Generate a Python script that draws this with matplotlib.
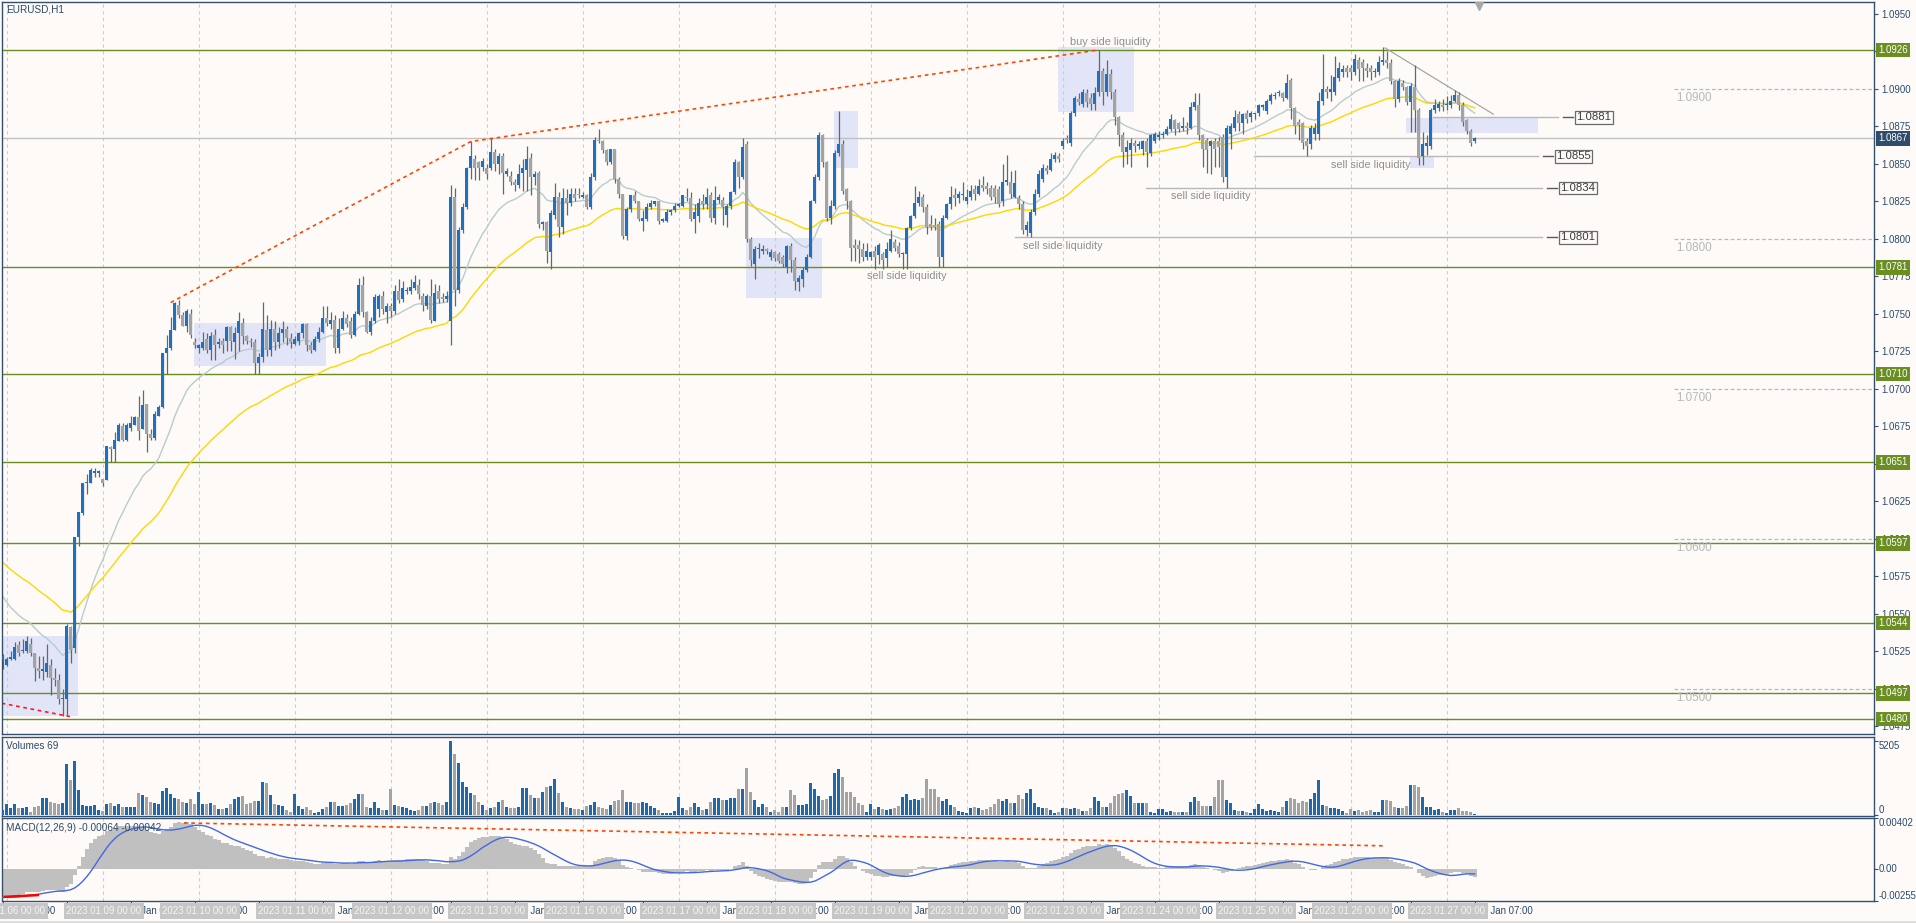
import matplotlib.pyplot as plt
import numpy as np
import pandas as pd
from matplotlib.patches import Rectangle
from matplotlib.transforms import blended_transform_factory as blend

plt.rcParams['font.family'] = ['Liberation Sans', 'DejaVu Sans']

# ---------------- data: EURUSD H1, prices in 1/10000 (10867 = 1.0867) ----------------
OPEN = [
    10519, 10516, 10520, 10520, 10529, 10525, 10525, 10530, 10524, 10514,
    10512, 10511, 10516, 10507, 10506, 10493, 10493, 10541, 10527, 10601,
    10617, 10637, 10637, 10644, 10644, 10640, 10639, 10661, 10660, 10665,
    10675, 10666, 10674, 10676, 10681, 10673, 10690, 10670, 10667, 10682,
    10688, 10724, 10727, 10739, 10756, 10749, 10742, 10750, 10731, 10727,
    10727, 10733, 10726, 10736, 10730, 10732, 10732, 10741, 10731, 10737,
    10744, 10735, 10732, 10731, 10717, 10721, 10739, 10726, 10740, 10731,
    10737, 10740, 10734, 10730, 10732, 10737, 10743, 10729, 10726, 10733,
    10738, 10747, 10743, 10746, 10727, 10740, 10747, 10745, 10736, 10750,
    10769, 10751, 10738, 10745, 10753, 10762, 10751, 10755, 10752, 10765,
    10760, 10765, 10765, 10767, 10769, 10762, 10755, 10762, 10745, 10765,
    10761, 10760, 10745, 10828, 10766, 10806, 10821, 10847, 10853, 10851,
    10848, 10847, 10847, 10858, 10850, 10855, 10843, 10842, 10838, 10836,
    10844, 10846, 10854, 10841, 10844, 10810, 10811, 10791, 10816, 10828,
    10808, 10827, 10824, 10830, 10830, 10828, 10829, 10821, 10841, 10866,
    10865, 10859, 10851, 10860, 10840, 10830, 10802, 10820, 10829, 10825,
    10812, 10813, 10821, 10823, 10825, 10812, 10812, 10818, 10819, 10822,
    10822, 10828, 10827, 10813, 10815, 10825, 10823, 10829, 10814, 10826,
    10826, 10816, 10822, 10831, 10851, 10841, 10863, 10800, 10783, 10793,
    10792, 10793, 10788, 10791, 10790, 10788, 10781, 10795, 10786, 10771,
    10773, 10779, 10788, 10825, 10841, 10869, 10851, 10814, 10822, 10857,
    10863, 10833, 10825, 10796, 10796, 10793, 10788, 10788, 10792, 10789,
    10790, 10787, 10792, 10798, 10795, 10790, 10790, 10807, 10815, 10824,
    10828, 10821, 10810, 10809, 10810, 10788, 10814, 10823, 10829, 10827,
    10829, 10825, 10828, 10833, 10830, 10836, 10835, 10834, 10834, 10833,
    10825, 10838, 10838, 10828, 10827, 10823, 10806, 10804, 10818, 10830,
    10840, 10847, 10846, 10853, 10855, 10862, 10867, 10864, 10884, 10893,
    10890, 10897, 10894, 10890, 10898, 10912, 10898, 10910, 10898, 10881,
    10869, 10858, 10859, 10864, 10862, 10860, 10865, 10857, 10865, 10868,
    10869, 10870, 10873, 10879, 10877, 10874, 10875, 10874, 10888, 10889,
    10869, 10866, 10862, 10865, 10865, 10868, 10841, 10870, 10874, 10883,
    10877, 10884, 10881, 10883, 10884, 10888, 10885, 10892, 10895, 10897,
    10897, 10894, 10906, 10887, 10878, 10877, 10865, 10863, 10870, 10870,
    10892, 10900, 10898, 10898, 10907, 10911, 10914, 10914, 10911, 10919,
    10918, 10914, 10914, 10911, 10911, 10918, 10919, 10917, 10905, 10893,
    10904, 10901, 10891, 10901, 10886, 10855, 10862, 10862, 10886, 10887,
    10889, 10889, 10889, 10892, 10896, 10889, 10879, 10872, 10865,
]
HIGH = [
    10523, 10521, 10525, 10531, 10532, 10533, 10535, 10534, 10524, 10522,
    10522, 10530, 10520, 10514, 10510, 10500, 10543, 10542, 10601, 10618,
    10637, 10643, 10647, 10647, 10646, 10640, 10662, 10662, 10671, 10677,
    10677, 10677, 10682, 10682, 10695, 10699, 10690, 10673, 10685, 10689,
    10724, 10736, 10748, 10758, 10759, 10751, 10753, 10753, 10734, 10730,
    10738, 10737, 10738, 10740, 10734, 10734, 10742, 10742, 10741, 10751,
    10747, 10736, 10734, 10733, 10724, 10758, 10749, 10746, 10745, 10741,
    10745, 10742, 10737, 10735, 10738, 10744, 10744, 10731, 10735, 10741,
    10755, 10755, 10751, 10749, 10747, 10752, 10750, 10748, 10752, 10774,
    10775, 10752, 10748, 10763, 10763, 10765, 10757, 10757, 10769, 10773,
    10772, 10768, 10773, 10776, 10773, 10764, 10763, 10773, 10770, 10769,
    10764, 10765, 10836, 10834, 10808, 10824, 10848, 10865, 10856, 10852,
    10854, 10850, 10867, 10860, 10857, 10857, 10847, 10845, 10840, 10850,
    10853, 10862, 10857, 10845, 10845, 10812, 10812, 10819, 10837, 10831,
    10834, 10833, 10834, 10834, 10834, 10831, 10830, 10844, 10868, 10873,
    10866, 10860, 10860, 10860, 10841, 10830, 10821, 10829, 10832, 10825,
    10819, 10824, 10826, 10825, 10825, 10814, 10820, 10820, 10824, 10824,
    10829, 10834, 10831, 10823, 10827, 10830, 10834, 10831, 10835, 10830,
    10828, 10823, 10832, 10853, 10852, 10867, 10865, 10801, 10795, 10797,
    10796, 10794, 10793, 10792, 10791, 10789, 10796, 10797, 10788, 10776,
    10781, 10790, 10826, 10843, 10871, 10870, 10852, 10826, 10859, 10885,
    10866, 10834, 10826, 10800, 10799, 10797, 10797, 10792, 10795, 10797,
    10791, 10798, 10806, 10800, 10798, 10791, 10808, 10816, 10835, 10832,
    10830, 10823, 10816, 10814, 10812, 10816, 10824, 10835, 10834, 10832,
    10838, 10833, 10836, 10836, 10840, 10842, 10838, 10836, 10836, 10835,
    10850, 10856, 10845, 10846, 10829, 10825, 10812, 10820, 10833, 10846,
    10850, 10849, 10857, 10858, 10857, 10867, 10869, 10885, 10895, 10897,
    10900, 10900, 10897, 10901, 10926, 10914, 10919, 10913, 10900, 10882,
    10871, 10866, 10867, 10866, 10865, 10866, 10867, 10870, 10871, 10872,
    10872, 10875, 10883, 10880, 10878, 10881, 10878, 10891, 10897, 10897,
    10870, 10867, 10866, 10867, 10868, 10870, 10876, 10877, 10886, 10885,
    10884, 10886, 10885, 10884, 10890, 10890, 10893, 10897, 10898, 10899,
    10898, 10910, 10907, 10888, 10880, 10878, 10867, 10876, 10877, 10898,
    10923, 10902, 10909, 10922, 10918, 10916, 10916, 10916, 10923, 10921,
    10920, 10917, 10916, 10914, 10922, 10928, 10925, 10920, 10906, 10907,
    10906, 10902, 10904, 10916, 10887, 10871, 10869, 10887, 10893, 10892,
    10893, 10895, 10896, 10899, 10898, 10891, 10880, 10873, 10868,
]
LOW = [
    10513, 10515, 10519, 10519, 10522, 10524, 10524, 10522, 10505, 10507,
    10506, 10508, 10496, 10502, 10490, 10482, 10482, 10517, 10524, 10595,
    10616, 10630, 10637, 10641, 10641, 10635, 10639, 10651, 10651, 10665,
    10665, 10665, 10672, 10676, 10666, 10673, 10658, 10666, 10666, 10682,
    10687, 10710, 10726, 10739, 10747, 10742, 10738, 10734, 10727, 10724,
    10726, 10724, 10719, 10719, 10727, 10724, 10725, 10725, 10720, 10725,
    10730, 10730, 10728, 10710, 10710, 10718, 10722, 10722, 10726, 10727,
    10731, 10729, 10727, 10729, 10729, 10734, 10725, 10724, 10725, 10731,
    10737, 10742, 10740, 10724, 10724, 10739, 10741, 10734, 10735, 10749,
    10748, 10737, 10736, 10744, 10748, 10750, 10744, 10748, 10750, 10757,
    10758, 10763, 10763, 10766, 10760, 10752, 10753, 10744, 10745, 10757,
    10758, 10758, 10729, 10755, 10764, 10804, 10820, 10840, 10839, 10839,
    10845, 10840, 10846, 10845, 10843, 10830, 10842, 10836, 10832, 10834,
    10832, 10832, 10829, 10836, 10807, 10806, 10784, 10780, 10813, 10801,
    10803, 10816, 10822, 10825, 10827, 10827, 10820, 10820, 10839, 10864,
    10857, 10849, 10850, 10837, 10827, 10800, 10799, 10818, 10824, 10812,
    10805, 10812, 10820, 10822, 10810, 10811, 10811, 10816, 10818, 10821,
    10821, 10825, 10812, 10804, 10811, 10820, 10820, 10811, 10810, 10824,
    10809, 10808, 10820, 10830, 10834, 10840, 10798, 10782, 10773, 10787,
    10790, 10790, 10786, 10785, 10784, 10781, 10777, 10778, 10766, 10765,
    10768, 10778, 10787, 10824, 10839, 10848, 10812, 10810, 10820, 10855,
    10830, 10820, 10785, 10785, 10784, 10785, 10786, 10786, 10780, 10783,
    10780, 10781, 10791, 10792, 10788, 10780, 10780, 10806, 10814, 10822,
    10818, 10803, 10806, 10806, 10781, 10781, 10813, 10820, 10822, 10824,
    10826, 10823, 10826, 10826, 10829, 10832, 10830, 10826, 10824, 10821,
    10822, 10836, 10827, 10827, 10820, 10803, 10802, 10801, 10816, 10828,
    10838, 10843, 10845, 10851, 10851, 10860, 10864, 10862, 10882, 10889,
    10888, 10888, 10886, 10886, 10895, 10889, 10895, 10893, 10876, 10862,
    10848, 10850, 10848, 10858, 10860, 10856, 10848, 10855, 10864, 10866,
    10867, 10869, 10872, 10869, 10871, 10872, 10870, 10873, 10886, 10866,
    10848, 10844, 10843, 10848, 10848, 10838, 10834, 10860, 10872, 10872,
    10870, 10877, 10878, 10880, 10882, 10886, 10883, 10890, 10893, 10895,
    10892, 10893, 10880, 10870, 10866, 10860, 10855, 10860, 10866, 10866,
    10889, 10894, 10892, 10896, 10905, 10908, 10908, 10906, 10909, 10905,
    10905, 10908, 10906, 10908, 10909, 10916, 10914, 10903, 10888, 10891,
    10899, 10889, 10871, 10871, 10849, 10849, 10856, 10860, 10884, 10885,
    10885, 10886, 10887, 10891, 10886, 10875, 10870, 10862, 10864,
]
CLOSE = [
    10522, 10520, 10521, 10528, 10524, 10526, 10532, 10524, 10514, 10512,
    10513, 10517, 10507, 10506, 10493, 10494, 10542, 10526, 10601, 10618,
    10637, 10638, 10646, 10645, 10645, 10637, 10662, 10660, 10666, 10676,
    10666, 10676, 10677, 10681, 10672, 10689, 10670, 10667, 10683, 10688,
    10724, 10727, 10739, 10757, 10749, 10742, 10752, 10736, 10729, 10729,
    10731, 10726, 10735, 10729, 10731, 10729, 10741, 10732, 10737, 10745,
    10735, 10732, 10731, 10717, 10721, 10740, 10726, 10740, 10731, 10737,
    10740, 10734, 10731, 10733, 10737, 10743, 10729, 10726, 10733, 10738,
    10747, 10744, 10746, 10727, 10740, 10747, 10743, 10736, 10750, 10769,
    10751, 10738, 10745, 10761, 10762, 10753, 10755, 10752, 10765, 10759,
    10767, 10766, 10768, 10771, 10763, 10756, 10762, 10746, 10764, 10760,
    10760, 10762, 10828, 10766, 10806, 10821, 10847, 10855, 10847, 10847,
    10852, 10843, 10858, 10850, 10855, 10844, 10845, 10838, 10836, 10843,
    10847, 10853, 10841, 10843, 10810, 10811, 10792, 10817, 10828, 10808,
    10827, 10824, 10830, 10827, 10829, 10829, 10821, 10841, 10866, 10865,
    10859, 10851, 10860, 10840, 10830, 10802, 10820, 10829, 10825, 10813,
    10814, 10821, 10824, 10825, 10812, 10813, 10818, 10819, 10822, 10823,
    10829, 10827, 10813, 10818, 10824, 10823, 10828, 10814, 10826, 10828,
    10821, 10822, 10831, 10851, 10841, 10861, 10800, 10786, 10793, 10794,
    10793, 10792, 10791, 10787, 10785, 10783, 10795, 10786, 10772, 10774,
    10779, 10788, 10825, 10841, 10869, 10851, 10814, 10822, 10857, 10863,
    10832, 10825, 10794, 10794, 10793, 10788, 10792, 10791, 10788, 10796,
    10786, 10793, 10800, 10794, 10790, 10790, 10807, 10815, 10824, 10828,
    10821, 10808, 10808, 10808, 10788, 10814, 10823, 10828, 10827, 10830,
    10830, 10828, 10832, 10830, 10835, 10834, 10833, 10828, 10828, 10823,
    10838, 10839, 10830, 10837, 10823, 10806, 10809, 10818, 10830, 10843,
    10847, 10845, 10853, 10856, 10853, 10865, 10866, 10884, 10894, 10891,
    10898, 10891, 10890, 10897, 10912, 10898, 10910, 10898, 10881, 10869,
    10858, 10861, 10864, 10862, 10863, 10865, 10858, 10869, 10870, 10869,
    10870, 10873, 10880, 10873, 10873, 10875, 10874, 10888, 10891, 10869,
    10860, 10859, 10865, 10860, 10861, 10841, 10874, 10875, 10881, 10877,
    10883, 10880, 10884, 10884, 10889, 10889, 10892, 10896, 10896, 10897,
    10894, 10904, 10887, 10875, 10876, 10864, 10862, 10874, 10874, 10892,
    10900, 10898, 10900, 10908, 10914, 10913, 10911, 10911, 10920, 10913,
    10914, 10912, 10911, 10912, 10918, 10919, 10917, 10905, 10893, 10905,
    10901, 10891, 10902, 10886, 10854, 10863, 10864, 10886, 10889, 10890,
    10888, 10890, 10892, 10896, 10889, 10878, 10872, 10864, 10867,
]
VOLUME = [
    352, 775, 470, 752, 470, 470, 587, 235, 587, 658,
    1175, 1175, 940, 869, 752, 822, 3595, 2467, 3807, 1762,
    705, 658, 658, 705, 352, 305, 775, 822, 634, 775,
    587, 540, 540, 540, 1527, 1410, 1292, 893, 822, 752,
    1715, 1880, 1480, 1175, 1104, 940, 822, 1104, 775, 1645,
    775, 775, 822, 705, 399, 423, 470, 775, 1104, 1245,
    1339, 752, 869, 1010, 987, 2303, 2232, 1410, 775, 705,
    634, 352, 235, 1480, 634, 446, 587, 352, 164, 188,
    423, 540, 940, 940, 634, 634, 705, 822, 1104, 1480,
    1457, 587, 470, 940, 470, 352, 352, 1809, 705, 634,
    587, 470, 352, 305, 352, 634, 634, 822, 940, 822,
    705, 940, 5205, 4300, 3642, 2350, 1997, 1574, 1410, 940,
    705, 352, 470, 587, 940, 1057, 587, 470, 470, 587,
    1880, 1880, 1410, 1175, 1175, 1645, 1997, 2044, 2514, 1527,
    940, 587, 470, 399, 399, 352, 634, 705, 940, 587,
    470, 399, 705, 987, 1057, 1762, 940, 940, 822, 822,
    940, 869, 634, 470, 352, 117, 117, 117, 305, 1292,
    470, 352, 587, 869, 587, 352, 399, 940, 1175, 1222,
    1057, 1057, 1175, 1222, 1833, 1833, 3337, 1598, 1057, 587,
    752, 540, 235, 352, 235, 540, 587, 1762, 1410, 705,
    705, 775, 2279, 1809, 1339, 1057, 1128, 1339, 2937, 3243,
    2702, 1598, 1598, 1292, 822, 705, 235, 752, 423, 587,
    423, 352, 423, 470, 634, 1292, 1480, 1057, 1104, 1057,
    1175, 2538, 1833, 1833, 1245, 987, 1104, 705, 540, 305,
    235, 164, 470, 540, 470, 352, 399, 587, 752, 1104,
    1010, 1104, 822, 822, 1410, 1104, 1574, 1809, 869, 540,
    493, 517, 352, 164, 235, 470, 470, 399, 470, 399,
    305, 305, 470, 1292, 1010, 587, 587, 869, 1339, 1457,
    1527, 1762, 1339, 822, 822, 822, 869, 235, 164, 399,
    399, 235, 282, 235, 235, 235, 235, 893, 1245, 987,
    634, 634, 634, 1245, 2467, 2467, 1057, 822, 352, 305,
    305, 235, 117, 399, 775, 423, 282, 352, 282, 235,
    587, 987, 1222, 1104, 869, 987, 940, 1104, 1574, 2467,
    705, 658, 517, 470, 399, 305, 164, 399, 305, 352,
    235, 305, 352, 235, 235, 1057, 1057, 987, 587, 470,
    470, 634, 2115, 2115, 1997, 1292, 540, 587, 352, 423,
    235, 117, 352, 352, 470, 305, 282, 235, 69,
]
TRADING_DAYS = [6, 9, 10, 11, 12, 13, 16, 17, 18, 19, 20, 23, 24, 25, 26, 27]

# moving-average levels at the first bar
EMA20_START, EMA50_START = 1.0566, 1.0587
EMA12_START, EMA26_START = 1.0548, 1.0570

# chart objects (bar index, price)
GREEN_LEVELS = [1.0926, 1.0781, 1.0710, 1.0651, 1.0597, 1.0544, 1.0497, 1.0480]
ROUND_LEVELS = [1.0900, 1.0800, 1.0700, 1.0600, 1.0500]
LAST_PRICE = 1.0867
ZONES = [(-0.25, 18.75, 1.04823, 1.05351), (47.8, 80.75, 1.07152, 1.07440),
         (185.8, 204.75, 1.07605, 1.08006), (207.8, 213.75, 1.08475, 1.08850),
         (263.8, 282.8, 1.08845, 1.09278), (350.8, 383.75, 1.08709, 1.08808),
         (351.8, 357.8, 1.08475, 1.08546)]
LIQUIDITY = [(1.0881, 357.6, 388.8), (1.0855, 312.8, 383.8),
             (1.0834, 285.8, 384.8), (1.0801, 253.0, 384.8)]
NOTES = [("buy side liquidity", 276.9, 1.09316), ("sell side liquidity", 226.0, 1.07750),
         ("sell side liquidity", 264.9, 1.07951), ("sell side liquidity", 302.0, 1.08285),
         ("sell side liquidity", 342.0, 1.08490)]
TREND_HIGHS = [(42, 1.07576), (117, 1.08649), (274, 1.0926)]
TREND_LOWS = [(-0.25, 1.04905), (16.8, 1.04816)]
TREND_DOWN = [(345.6, 1.09273), (372.6, 1.08832)]
MACD_TREND = [(45.3, 0.00365), (345.8, 0.00183)]
MACD_LOW = [(0.5, -0.00222), (8.8, -0.00208)]

# ---------------- styling ----------------
BG = '#fdfaf8'
FRAME = '#33506e'
TXT = '#2b4a6b'
BULL = '#2070bd'
BEAR = '#a3a3a3'
VOL_BULL = '#1f68ab'
WICK = '#5d6b6b'
GREEN = '#6b8e23'
FS = 6.9
W, H = 1916, 923

n = min(len(OPEN), len(HIGH), len(LOW), len(CLOSE), len(VOLUME))
o = np.array(OPEN[:n]) / 1e4
c = np.array(CLOSE[:n]) / 1e4
h = np.maximum(np.array(HIGH[:n]) / 1e4, np.maximum(o, c))
l = np.minimum(np.array(LOW[:n]) / 1e4, np.minimum(o, c))
vol = np.array(VOLUME[:n])
x = np.arange(n)
up = c >= o


def ema(values, period, start):
    k = 2.0 / (period + 1)
    out = np.empty(len(values))
    prev = start
    for i, v in enumerate(values):
        prev = prev + k * (v - prev)
        out[i] = prev
    return out


ema20 = ema(c, 20, EMA20_START)
ema50 = ema(c, 50, EMA50_START)
macd = ema(c, 12, EMA12_START) - ema(c, 26, EMA26_START)
signal = pd.Series(macd).rolling(9, min_periods=1).mean().values


def rect(left, top, right, bottom):
    return [left / W, 1 - bottom / H, (right - left) / W, (bottom - top) / H]


fig = plt.figure(figsize=(W / 100, H / 100), dpi=100, facecolor=BG)
ax = fig.add_axes(rect(2, 1.5, 1874, 734))
axv = fig.add_axes(rect(2, 737, 1874, 816))
axm = fig.add_axes(rect(2, 818.3, 1874, 901))

XL = (-0.175, 467.8)
for a in (ax, axv, axm):
    a.set_facecolor(BG)
    a.set_xlim(*XL)
    for s in a.spines.values():
        s.set_color(FRAME)
        s.set_linewidth(1.0)
    a.tick_params(axis='x', bottom=False, labelbottom=False)
    a.yaxis.tick_right()
    a.tick_params(axis='y', length=3, width=0.8, color=FRAME, labelsize=FS,
                  labelcolor=TXT, pad=2.5)
    for k in range(len(TRADING_DAYS)):
        a.axvline(1 + 24 * k, color='#cdcdcd', lw=0.8, ls=(0, (3, 3)), zorder=0.6)

# ---------------- price panel ----------------
ax.set_ylim(1.046997, 1.095827)
ax.set_yticks(np.arange(1.0475, 1.09501, 0.0025))
ax.yaxis.set_major_formatter(plt.FuncFormatter(lambda v, p: f'{v:.4f}'))
tr_ax = blend(ax.transAxes, ax.transData)

for b0, b1, p0, p1 in ZONES:
    ax.add_patch(Rectangle((b0, p0), b1 - b0, p1 - p0, fc='#e2e4f7', ec='none', zorder=0.5))

for p in GREEN_LEVELS:
    ax.axhline(p, color=GREEN, lw=1.0, zorder=1)
    ax.text(1.0022, p, f'{p:.4f}', transform=tr_ax, ha='left', va='center', fontsize=FS,
            color='white', clip_on=False, zorder=6,
            bbox=dict(boxstyle='square,pad=0.25', fc=GREEN, ec='none'))
ax.axhline(LAST_PRICE, color='#c2c2c2', lw=1.0, zorder=1)
ax.text(1.0022, LAST_PRICE, f'{LAST_PRICE:.4f}', transform=tr_ax, ha='left', va='center',
        fontsize=FS, color='white', clip_on=False, zorder=6,
        bbox=dict(boxstyle='square,pad=0.25', fc='#2f4d6b', ec='none'))

for p in ROUND_LEVELS:
    ax.plot([417.8, XL[1]], [p, p], color='#b9b9b9', lw=0.9, ls=(0, (3, 2)), zorder=1)
    ax.annotate(f'{p:.4f}', (418.3, p), xytext=(0, -2), textcoords='offset points',
                ha='left', va='top', fontsize=8.4, color='#b8b8b8')

for p, b0, b1 in LIQUIDITY:
    ax.plot([b0, b1], [p, p], color='#b8b8b8', lw=1.0, zorder=1)
    ax.plot([b1 + 1.25, b1 + 3.75], [p, p], color='#5a5a5a', lw=1.0, zorder=1)
    ax.text(b1 + 4.6, p, f'{p:.4f}', ha='left', va='center', fontsize=8.2, color='#3c3c3c',
            zorder=6, bbox=dict(boxstyle='square,pad=0.12', fc=BG, ec='#6a6a6a', lw=0.9))

for txt, b, p in NOTES:
    ax.text(b, p, txt, ha='center', va='center', fontsize=7.8, color='#8f8f8f', zorder=6)

tx, ty = zip(*TREND_HIGHS)
ax.plot(tx, ty, color='#ff4500', lw=1.2, ls=(0, (2.2, 2.2)), zorder=1.2)
tx, ty = zip(*TREND_LOWS)
ax.plot(tx, ty, color='#ff1a1a', lw=1.2, ls=(0, (2.2, 2.2)), zorder=1.2)
tx, ty = zip(*TREND_DOWN)
ax.plot(tx, ty, color='#a6a6a6', lw=0.9, zorder=1.2)

ax.plot(x, ema20, color='#b7cdcc', lw=1.0, zorder=1.5)
ax.plot(x, ema50, color='#ffd700', lw=1.0, zorder=1.5)

ax.vlines(x, l, h, color=WICK, lw=0.9, zorder=2)
body_lo = np.minimum(o, c)
body_h = np.maximum(np.abs(c - o), 0.00007)
ax.bar(x, body_h, bottom=body_lo, width=0.8, color=np.where(up, BULL, BEAR),
       edgecolor='none', zorder=3)

ax.plot([369.1], [0.9945], marker='v', ms=6, color='#a8a8a8',
        transform=blend(ax.transData, ax.transAxes), clip_on=False, zorder=6)

fig.text(6.5 / W, 1 - 10 / H, 'EURUSD,H1', fontsize=7.2, color=TXT, va='center')

# ---------------- volume panel ----------------
axv.set_ylim(-70.5, 5499)
axv.bar(x, vol, width=0.7, color=np.where(up, VOL_BULL, BEAR), edgecolor='none', zorder=3)
axv.set_yticks([0, 5205])
axv.set_yticklabels([])
tr_v = blend(axv.transAxes, axv.transData)
axv.text(1.0025, 5205, '5205', transform=tr_v, ha='left', va='top', fontsize=FS, color=TXT)
axv.text(1.0025, 0, '0', transform=tr_v, ha='left', va='bottom', fontsize=FS, color=TXT)
fig.text(6 / W, 1 - 746 / H, f'Volumes {vol[-1]}', fontsize=7.2, color=TXT, va='center')

# ---------------- MACD panel ----------------
axm.set_ylim(-0.00255, 0.00402)
axm.bar(x, macd, width=1.0, color='#c0c0c0', edgecolor='none', zorder=2)
axm.plot(x, signal, color='#4169e1', lw=1.0, zorder=3)
tx, ty = zip(*MACD_TREND)
axm.plot(tx, ty, color='#ff4500', lw=1.2, ls=(0, (2.2, 2.2)), zorder=3)
tx, ty = zip(*MACD_LOW)
axm.plot(tx, ty, color='#ff0000', lw=1.8, zorder=3)
axm.set_yticks([-0.00255, 0, 0.00402])
axm.set_yticklabels([])
tr_m = blend(axm.transAxes, axm.transData)
axm.text(1.0025, 0.00402, '0.00402', transform=tr_m, ha='left', va='top', fontsize=FS,
         color=TXT)
axm.text(1.0025, 0.0, '0.00', transform=tr_m, ha='left', va='center', fontsize=FS, color=TXT)
axm.text(1.0022, -0.00255, '-0.00255', transform=tr_m, ha='left', va='bottom', fontsize=FS,
         color=TXT)
fig.text(6 / W, 1 - 828 / H, 'MACD(12,26,9) -0.00064 -0.00042', fontsize=7.2, color=TXT,
         va='center')

# ---------------- time axis ----------------
ticks = list(range(n - 1, -1, -16))
axm.set_xticks(ticks)
axm.tick_params(axis='x', bottom=True, length=3, width=0.8, color=FRAME, labelbottom=False)
tr_t = blend(axm.transData, axm.transAxes)


def bar_time(b):
    if b == 0:
        return '5 Jan 23:00'
    d = TRADING_DAYS[min((b - 1) // 24, len(TRADING_DAYS) - 1)]
    return f'{d} Jan {(b - 1) % 24:02d}:00'


# regular time labels, partly hidden under the grey date tags as in the terminal
for b in ticks:
    axm.text(b + 0.5, -0.121, bar_time(b), transform=tr_t, ha='left', va='center',
             fontsize=FS, color=TXT, clip_on=False, zorder=4)
for k, d in enumerate(TRADING_DAYS):
    bx = 15.3 + 24 * (k - 1)
    axm.text(bx + 0.6, -0.121, f'2023.01.{d:02d} 00:00', transform=tr_t, ha='left',
             va='center', fontsize=FS, color='#f6f6f6', clip_on=False, zorder=5,
             bbox=dict(boxstyle='square,pad=0.28', fc='#c6c6c6', ec='none'))

fig.add_artist(plt.Line2D([0, 1], [1.5 / H, 1.5 / H], color='#dcdcdc', lw=2,
                          transform=fig.transFigure))

fig.savefig('out.png', dpi=100, facecolor=BG)
